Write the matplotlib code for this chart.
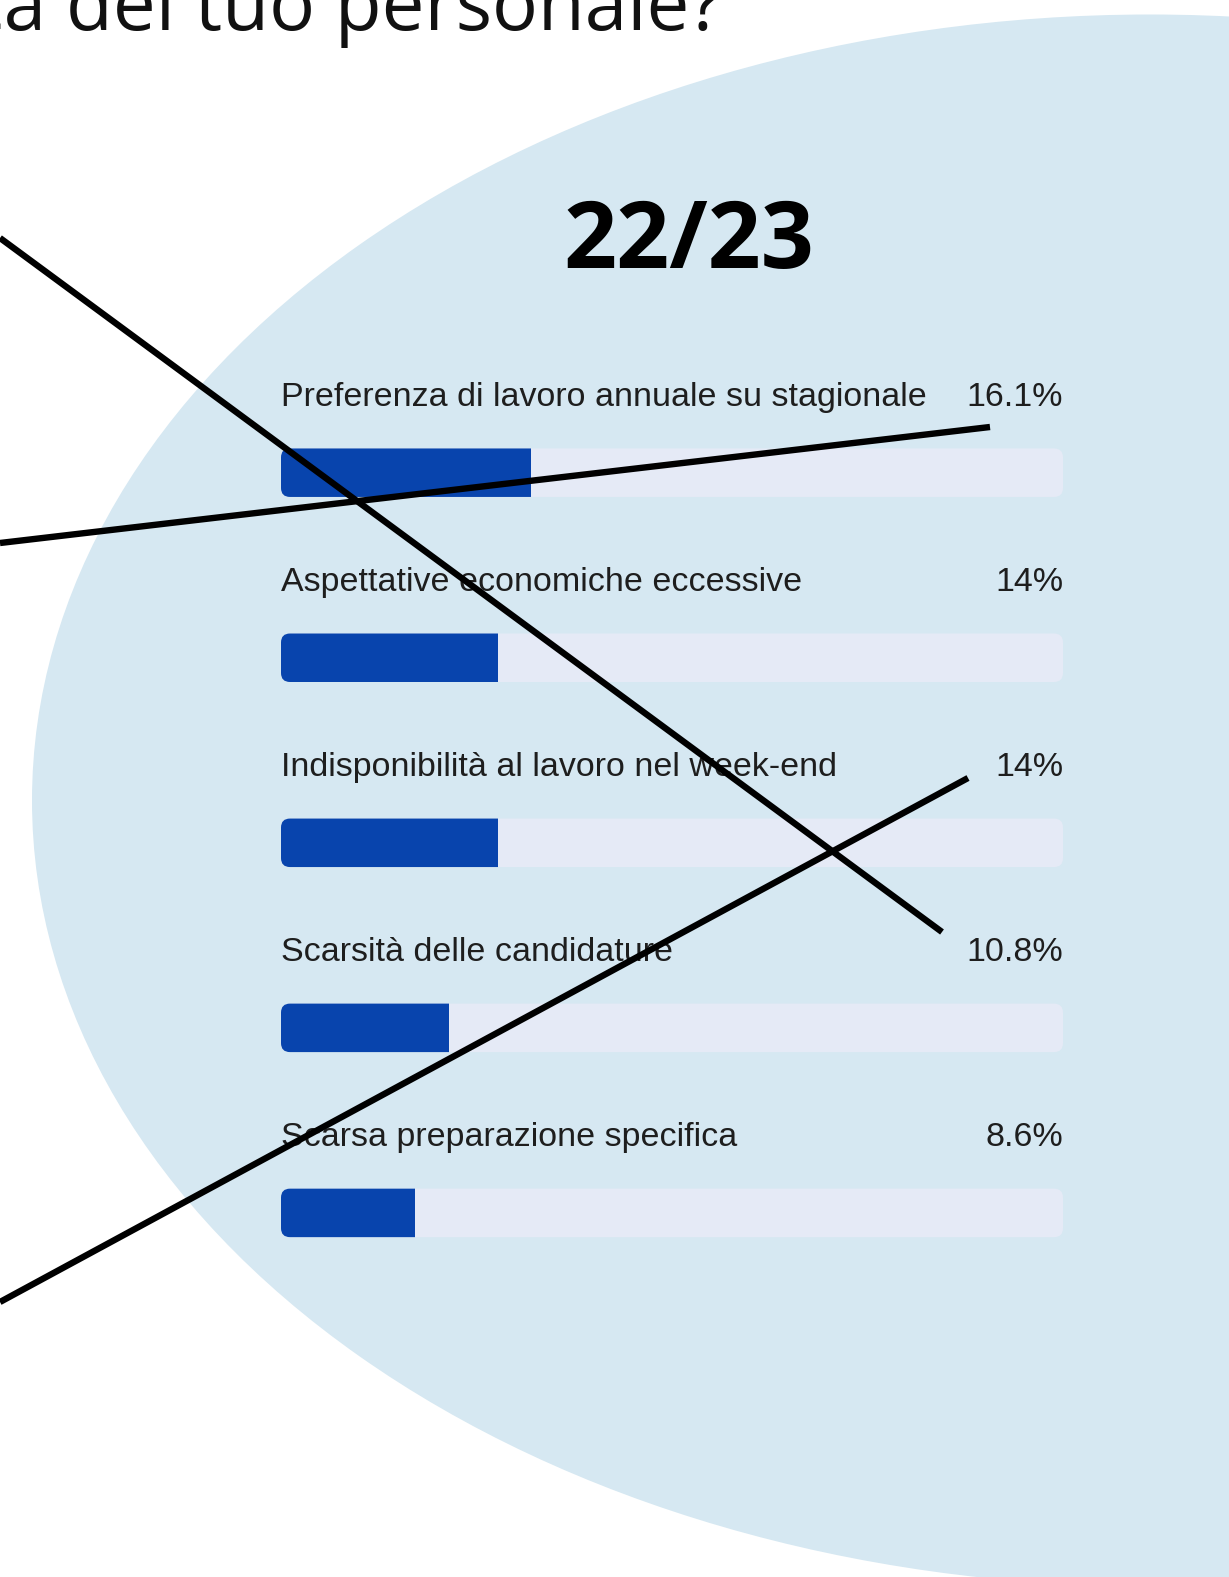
import matplotlib
matplotlib.use("Agg")
import matplotlib.pyplot as plt
from matplotlib.patches import Ellipse, FancyBboxPatch, Rectangle

# ---- data -------------------------------------------------------------
season = "22/23"
question_tail = "nella ricerca del tuo personale?"
categories = [
    "Preferenza di lavoro annuale su stagionale",
    "Aspettative economiche eccessive",
    "Indisponibilità al lavoro nel week-end",
    "Scarsità delle candidature",
    "Scarsa preparazione specifica",
]
values = [16.1, 14.0, 14.0, 10.8, 8.6]
value_labels = ["16.1%", "14%", "14%", "10.8%", "8.6%"]

# ---- style ------------------------------------------------------------
W, H, DPI = 1229, 1577, 100
BG_BLUE = "#d6e8f2"
TRACK = "#e5eaf6"
FILL = "#0844ad"
TEXT = "#1e1e1e"
SCALE_MAX = 50.35          # full width of each track, in percent

fig = plt.figure(figsize=(W / DPI, H / DPI), dpi=DPI)
fig.patch.set_facecolor("white")

# background canvas in pixel units
bg = fig.add_axes([0, 0, 1, 1])
bg.set_xlim(0, W)
bg.set_ylim(H, 0)
bg.axis("off")
bg.add_patch(Ellipse((1150, 800.5), 2 * 1118, 2 * 786, facecolor=BG_BLUE,
                     edgecolor="none", zorder=0))

bg.text(722, 30, question_tail, ha="right", va="baseline",
        fontsize=55, family="Open Sans", color="#111111", zorder=2)
bg.text(689, 268, season, ha="center", va="baseline", fontsize=67,
        family="Open Sans", fontweight="bold", color="black", zorder=2)

# ---- progress bars ----------------------------------------------------
left_px, right_px = 281, 1063
row0_px, row_step_px = 472.7, 185.05
bar_h_px = 48.5

ax = fig.add_axes([left_px / W, 0, (right_px - left_px) / W, 1])
ax.set_xlim(0, SCALE_MAX)
ax.set_ylim((H - row0_px) / row_step_px, -row0_px / row_step_px)
ax.axis("off")
ax.patch.set_alpha(0)

px_x = SCALE_MAX / (right_px - left_px)   # data units per pixel (x)
px_y = 1.0 / row_step_px                  # data units per pixel (y)
bar_h = bar_h_px * px_y
radius = 9 * px_x
aspect = px_y / px_x
style = f"round,pad=0,rounding_size={radius}"

for i, (cat, val, lab) in enumerate(zip(categories, values, value_labels)):
    y0 = i - bar_h / 2
    ax.add_patch(FancyBboxPatch((0, y0), SCALE_MAX, bar_h, boxstyle=style,
                                mutation_aspect=aspect, facecolor=TRACK,
                                edgecolor="none", zorder=1))
    # filled part: rounded on the left, cut square at the value
    fill = FancyBboxPatch((0, y0), val + 3 * radius, bar_h, boxstyle=style,
                          mutation_aspect=aspect, facecolor=FILL,
                          edgecolor="none", zorder=2)
    ax.add_patch(fill)
    clip = Rectangle((0, y0 - bar_h), val, 3 * bar_h, transform=ax.transData)
    fill.set_clip_path(clip)

    base = i - 67 * px_y
    ax.text(0, base, cat, ha="left", va="baseline", fontsize=24.5,
            family="Liberation Sans", color=TEXT, zorder=3)
    ax.text(SCALE_MAX, base, lab, ha="right", va="baseline", fontsize=24.5,
            family="Liberation Sans", color=TEXT, zorder=3)

# ---- hand-drawn strike lines over the panel ---------------------------
strokes = [((0, 238), (942, 932)),
           ((0, 543), (990, 427)),
           ((0, 1302), (968, 778))]
top = fig.add_axes([0, 0, 1, 1])
top.set_xlim(0, W)
top.set_ylim(H, 0)
top.axis("off")
top.patch.set_alpha(0)
for (x0, y0), (x1, y1) in strokes:
    top.plot([x0, x1], [y0, y1], color="black", lw=4.6,
             solid_capstyle="butt", zorder=5)

fig.savefig("out.png", dpi=DPI)
